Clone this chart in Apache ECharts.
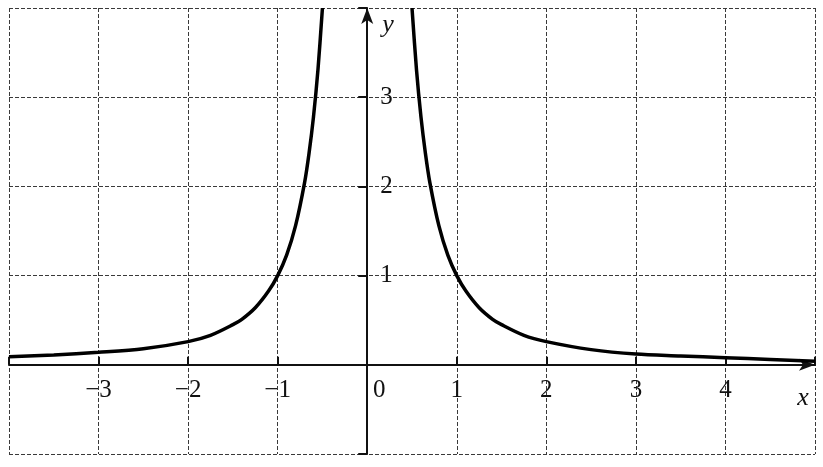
<!DOCTYPE html>
<html>
<head>
<meta charset="utf-8">
<script src="https://cdn.jsdelivr.net/npm/echarts@6/dist/echarts.min.js"></script>
<style>
  html, body { margin: 0; padding: 0; background: #fff; }
  #chart { width: 823px; height: 467px; }
</style>
</head>
<body>
<div id="chart"></div>
<script>
// points (left and right branch)
const leftX = [-4, -3.5, -3, -2.5, -2, -1.75, -1.5, -1.4, -1.25, -1.1, -1, -0.9, -0.8, -0.7, -0.65, -0.6, -0.55, -0.5];
const leftY = [0.09, 0.11, 0.14, 0.18, 0.26, 0.33, 0.45, 0.51, 0.64, 0.83, 1.0, 1.23, 1.56, 2.04, 2.37, 2.78, 3.31, 4.0];
const rightX = [0.5, 0.55, 0.6, 0.65, 0.7, 0.8, 0.9, 1, 1.1, 1.25, 1.4, 1.5, 1.75, 2, 2.5, 3, 3.5, 4, 4.5, 5];
const rightY = [4.0, 3.31, 2.78, 2.37, 2.04, 1.56, 1.23, 1.0, 0.83, 0.64, 0.51, 0.45, 0.33, 0.26, 0.17, 0.12, 0.1, 0.08, 0.06, 0.04];
const xTickLabels = ['−3', '−2', '−1', '0', '1', '2', '3', '4'];
const yTickLabels = ['1', '2', '3'];

const font = 'Liberation Serif, DejaVu Serif, serif';
const W = 823, H = 467;
const gLeft = 9, gRight = 8, gTop = 8, gBottom = 13;
const xMin = -4, xMax = 5, yMin = -1, yMax = 4;

function pairs (xs, ys) {
  let out = []
  for (let i = 0; i < xs.length; i++) {
    out.push([xs[i], ys[i]])
  }
  return out
}

function tickText (v) {
  return String(v).replace('-', '−')
}

// move the axes from the grid edge to the zero line
const xOffset = -(H - gTop - gBottom) * (0 - yMin) / (yMax - yMin);
const yOffset = -(W - gLeft - gRight) * (0 - xMin) / (xMax - xMin);

const chart = echarts.init(document.getElementById('chart'));

const gridLine = {
  show: true,
  lineStyle: { color: '#3a3a3a', width: 1, type: [4, 2] }
};

const option = {
  animation: false,
  backgroundColor: '#fff',
  grid: { left: gLeft, right: gRight, top: gTop, bottom: gBottom, outerBoundsMode: 'none' },
  xAxis: {
    type: 'value',
    min: xMin,
    max: xMax,
    interval: 1,
    position: 'bottom',
    offset: xOffset,
    name: 'x',
    nameLocation: 'end',
    nameGap: -12,
    nameTextStyle: {
      fontFamily: font, fontStyle: 'italic', fontSize: 26, color: '#111',
      align: 'center', verticalAlign: 'top', padding: [20, 0, 0, 0]
    },
    axisLine: {
      onZero: false,
      symbol: ['none', 'arrow'],
      symbolSize: [9, 16],
      lineStyle: { color: '#111', width: 2 }
    },
    axisTick: { show: true, inside: true, length: 8, lineStyle: { color: '#111', width: 2 } },
    axisLabel: {
      margin: 13,
      fontFamily: font,
      fontSize: 25,
      color: '#111',
      formatter: function (v) {
        const s = tickText(v)
        if (xTickLabels.indexOf(s) < 0) return ''
        if (v === 0) return '{z|0}'
        return s
      },
      rich: { z: { fontFamily: font, fontSize: 25, color: '#111', padding: [0, 0, 0, 24] } }
    },
    splitLine: gridLine
  },
  yAxis: {
    type: 'value',
    min: yMin,
    max: yMax,
    interval: 1,
    position: 'left',
    offset: yOffset,
    name: 'y',
    nameLocation: 'end',
    nameGap: 0,
    nameTextStyle: {
      fontFamily: font, fontStyle: 'italic', fontSize: 26, color: '#111',
      align: 'left', verticalAlign: 'top', padding: [4, 0, 0, 15]
    },
    axisLine: {
      onZero: false,
      symbol: ['none', 'arrow'],
      symbolSize: [9, 16],
      lineStyle: { color: '#111', width: 2 }
    },
    axisTick: { show: true, length: 9, lineStyle: { color: '#111', width: 2 } },
    axisLabel: {
      inside: true,
      margin: 13,
      fontFamily: font,
      fontSize: 25,
      color: '#111',
      formatter: function (v) {
        const s = tickText(v)
        return yTickLabels.indexOf(s) < 0 ? '' : s
      }
    },
    splitLine: gridLine
  },
  series: [{
    type: 'line',
    data: pairs(leftX, leftY),
    smooth: 0.3,
    showSymbol: false,
    lineStyle: { color: '#000', width: 3.5 }
  }, {
    type: 'line',
    data: pairs(rightX, rightY),
    smooth: 0.3,
    showSymbol: false,
    lineStyle: { color: '#000', width: 3.5 }
  }]
};

chart.setOption(option);
</script>
</body>
</html>
